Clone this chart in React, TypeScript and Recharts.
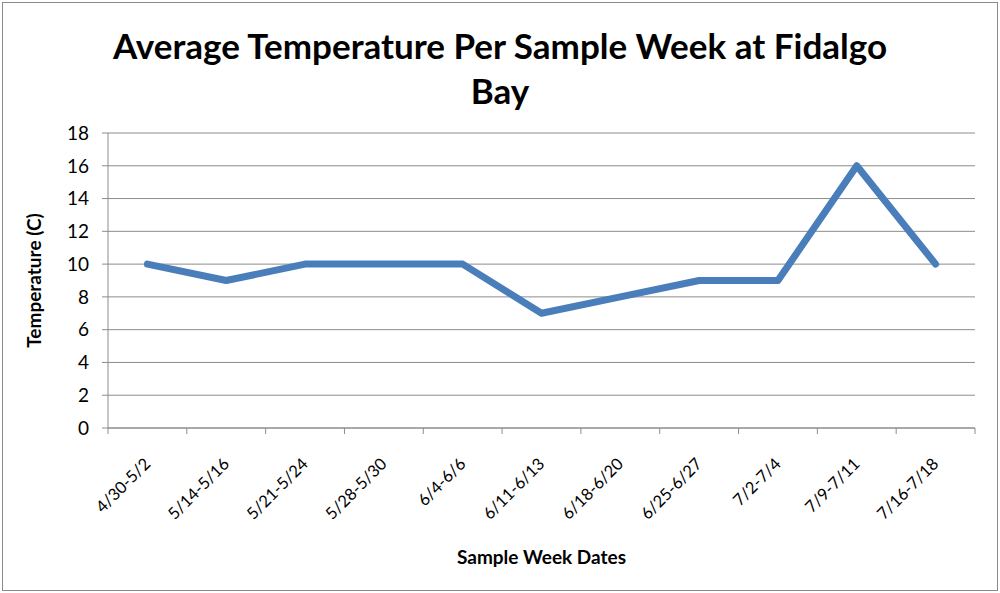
import { LineChart, Line, XAxis, YAxis, CartesianGrid } from "recharts";

const weeks = [
  "4/30-5/2",
  "5/14-5/16",
  "5/21-5/24",
  "5/28-5/30",
  "6/4-6/6",
  "6/11-6/13",
  "6/18-6/20",
  "6/25-6/27",
  "7/2-7/4",
  "7/9-7/11",
  "7/16-7/18",
];
const temps = [10, 9, 10, 10, 10, 7, 8, 9, 9, 16, 10];
const yTicks = [0, 2, 4, 6, 8, 10, 12, 14, 16, 18];
const boundaryTicks = weeks.map((_, i) => i).concat(weeks.length);

const FONT = "Lato, 'Open Sans', sans-serif";

function WeekTick({ x, y, payload }: any) {
  return (
    <text
      x={x + 4}
      y={y + 28}
      transform={`rotate(-45 ${x + 4} ${y + 28})`}
      textAnchor="end"
      fontSize={16.5}
      fontFamily={FONT}
      fill="#000"
    >
      {payload.value}
    </text>
  );
}

const NoLabel = () => <g />;

export default function App() {
  // pos = centre of each category slot, used by the boundary-tick axis
  const data = weeks.map((w, i) => ({ week: w, pos: i + 0.5, temp: temps[i] }));
  return (
    <div style={{ position: "absolute", left: 0, top: 0, width: 1000, height: 593, background: "#fff", fontFamily: FONT }}>
      <div
        style={{
          position: "absolute",
          left: 2,
          top: 2,
          width: 994,
          height: 587,
          border: "1px solid #8a8a8a",
        }}
      />
      <div
        style={{
          position: "absolute",
          left: 0,
          top: 23,
          width: 1000,
          textAlign: "center",
          fontSize: 35,
          fontWeight: 700,
          lineHeight: "45px",
          color: "#000",
        }}
      >
        Average Temperature Per Sample Week at Fidalgo
        <br />
        Bay
      </div>
      <div style={{ position: "absolute", left: 0, top: 0 }}>
        <LineChart width={1000} height={593} data={data} margin={{ top: 133, right: 25, bottom: 0, left: 0 }}>
          <CartesianGrid vertical={false} stroke="#8c8c8c" xAxisId="a" />
          <XAxis
            xAxisId="b"
            dataKey="week"
            scale="band"
            interval={0}
            axisLine={false}
            tickLine={false}
            tick={<WeekTick />}
            height={164}
            label={{
              value: "Sample Week Dates",
              position: "insideBottom",
              offset: 29,
              fontSize: 19,
              fontWeight: 700,
              fill: "#000",
              fontFamily: FONT,
            }}
          />
          <XAxis
            xAxisId="a"
            dataKey="pos"
            type="number"
            domain={[0, weeks.length]}
            ticks={boundaryTicks}
            interval={0}
            tick={NoLabel}
            tickSize={6}
            tickLine={{ stroke: "#8c8c8c" }}
            height={1}
            stroke="#8c8c8c"
            allowDataOverflow
          />
          <YAxis
            domain={[0, 18]}
            ticks={yTicks}
            width={108}
            tickSize={6}
            tickMargin={13}
            stroke="#8c8c8c"
            tick={{ fontSize: 19, fill: "#000", fontFamily: FONT }}
            label={{
              value: "Temperature (C)",
              angle: -90,
              position: "insideLeft",
              offset: 34,
              fontSize: 19,
              fontWeight: 700,
              fill: "#000",
              fontFamily: FONT,
              style: { textAnchor: "middle" },
            }}
          />
          <Line
            xAxisId="b"
            type="linear"
            dataKey="temp"
            stroke="#4a7ebb"
            strokeWidth={7}
            strokeLinecap="round"
            strokeLinejoin="round"
            dot={false}
            isAnimationActive={false}
          />
        </LineChart>
      </div>
    </div>
  );
}
